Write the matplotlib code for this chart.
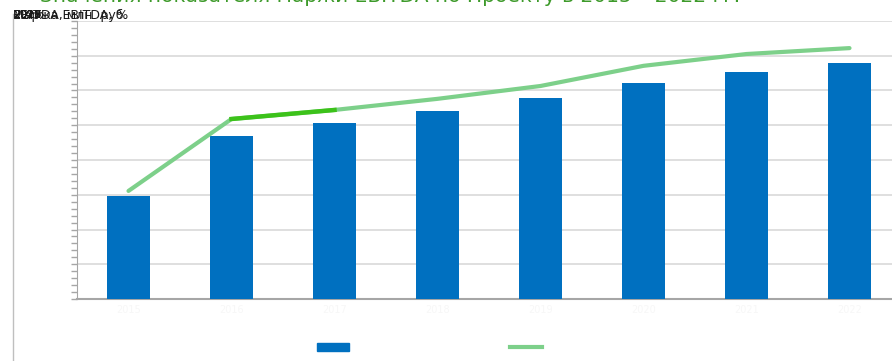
import matplotlib.pyplot as plt
from matplotlib.lines import Line2D
from matplotlib.patches import Patch
from matplotlib.ticker import MultipleLocator

# Data
years = ['2015', '2016', '2017', '2018', '2019', '2020', '2021', '2022']
ebitda = [296, 469, 506, 541, 578, 622, 653, 679]        # EBITDA, млн.руб.
margin = [31.1, 51.8, 54.4, 57.6, 61.3, 67.1, 70.5, 72.2]  # Маржа EBITDA, %

bar_color = '#0070c0'
line_color = '#7dd08a'
accent_color = '#3cc21a'
title_color = '#3d9a2a'

fig = plt.figure(figsize=(8.92, 3.61), dpi=100)
ax = fig.add_axes([77 / 892, 62 / 361, 824 / 892, 278 / 361])

x = range(len(years))
ax.bar(x, ebitda, width=0.41, color=bar_color, zorder=3)
ax.set_xlim(-0.5, len(years) - 0.5)
ax.set_ylim(0, 800)
ax.yaxis.set_major_locator(MultipleLocator(100))
ax.yaxis.set_minor_locator(MultipleLocator(20))
ax.grid(axis='y', color='#d9d9d9', linewidth=1.2, zorder=0)
ax.set_axisbelow(True)
ax.tick_params(axis='y', which='both', left=True, labelleft=False,
               direction='out', color='#a6a6a6', length=4, width=1)
ax.tick_params(axis='x', length=0, labelsize=7, labelcolor='#f7f7f7', pad=4)
ax.set_xticks(list(x))
ax.set_xticklabels(years)
for side in ['top', 'right']:
    ax.spines[side].set_visible(False)
ax.spines['left'].set_color('#a6a6a6')
ax.spines['bottom'].set_color('#a6a6a6')
ax.spines['bottom'].set_linewidth(1.5)

# Margin line on a second axis
ax2 = ax.twinx()
ax2.set_ylim(0, 80)
ax2.axis('off')
ax2.plot(x, margin, color=line_color, linewidth=3, solid_capstyle='round', zorder=4)
ax2.plot([1, 2], margin[1:3], color=accent_color, linewidth=3.2, zorder=5)

# Title, partly cut by the top edge
fig.text(390 / 892, 1 - 2.5 / 361, 'Значения показателя маржи EBITDA по Проекту в 2015 – 2022 гг.',
         ha='center', va='baseline', fontsize=14.5, color=title_color)

# Overlapping labels in the top left corner
for yr in years:
    fig.text(13 / 892, 1 - 15 / 361, yr, ha='left', va='center', fontsize=8, color='#1a1a1a')
fig.text(13 / 892, 1 - 15 / 361, 'EBITDA, млн. руб.', ha='left', va='center', fontsize=9, color='#1a1a1a')
fig.text(13 / 892, 1 - 15 / 361, 'Маржа EBITDA, %', ha='left', va='center', fontsize=9, color='#1a1a1a')

# Chart frame line on the left
fig.add_artist(Line2D([13 / 892, 13 / 892], [0, 1 - 14 / 361], color='#bfbfbf', linewidth=1))

# Legend at the bottom
handles = [Patch(color=bar_color), Line2D([0], [0], color=line_color, linewidth=3)]
leg = fig.legend(handles, ['EBITDA, млн.руб.', 'Маржа EBITDA, %'], loc='center',
                 bbox_to_anchor=(485 / 892, 1 - 348 / 361), ncol=2, frameon=False,
                 fontsize=8, handlelength=2.9, handleheight=0.65, columnspacing=4.9)
for t in leg.get_texts():
    t.set_color('white')

fig.savefig('out.png', dpi=100)
